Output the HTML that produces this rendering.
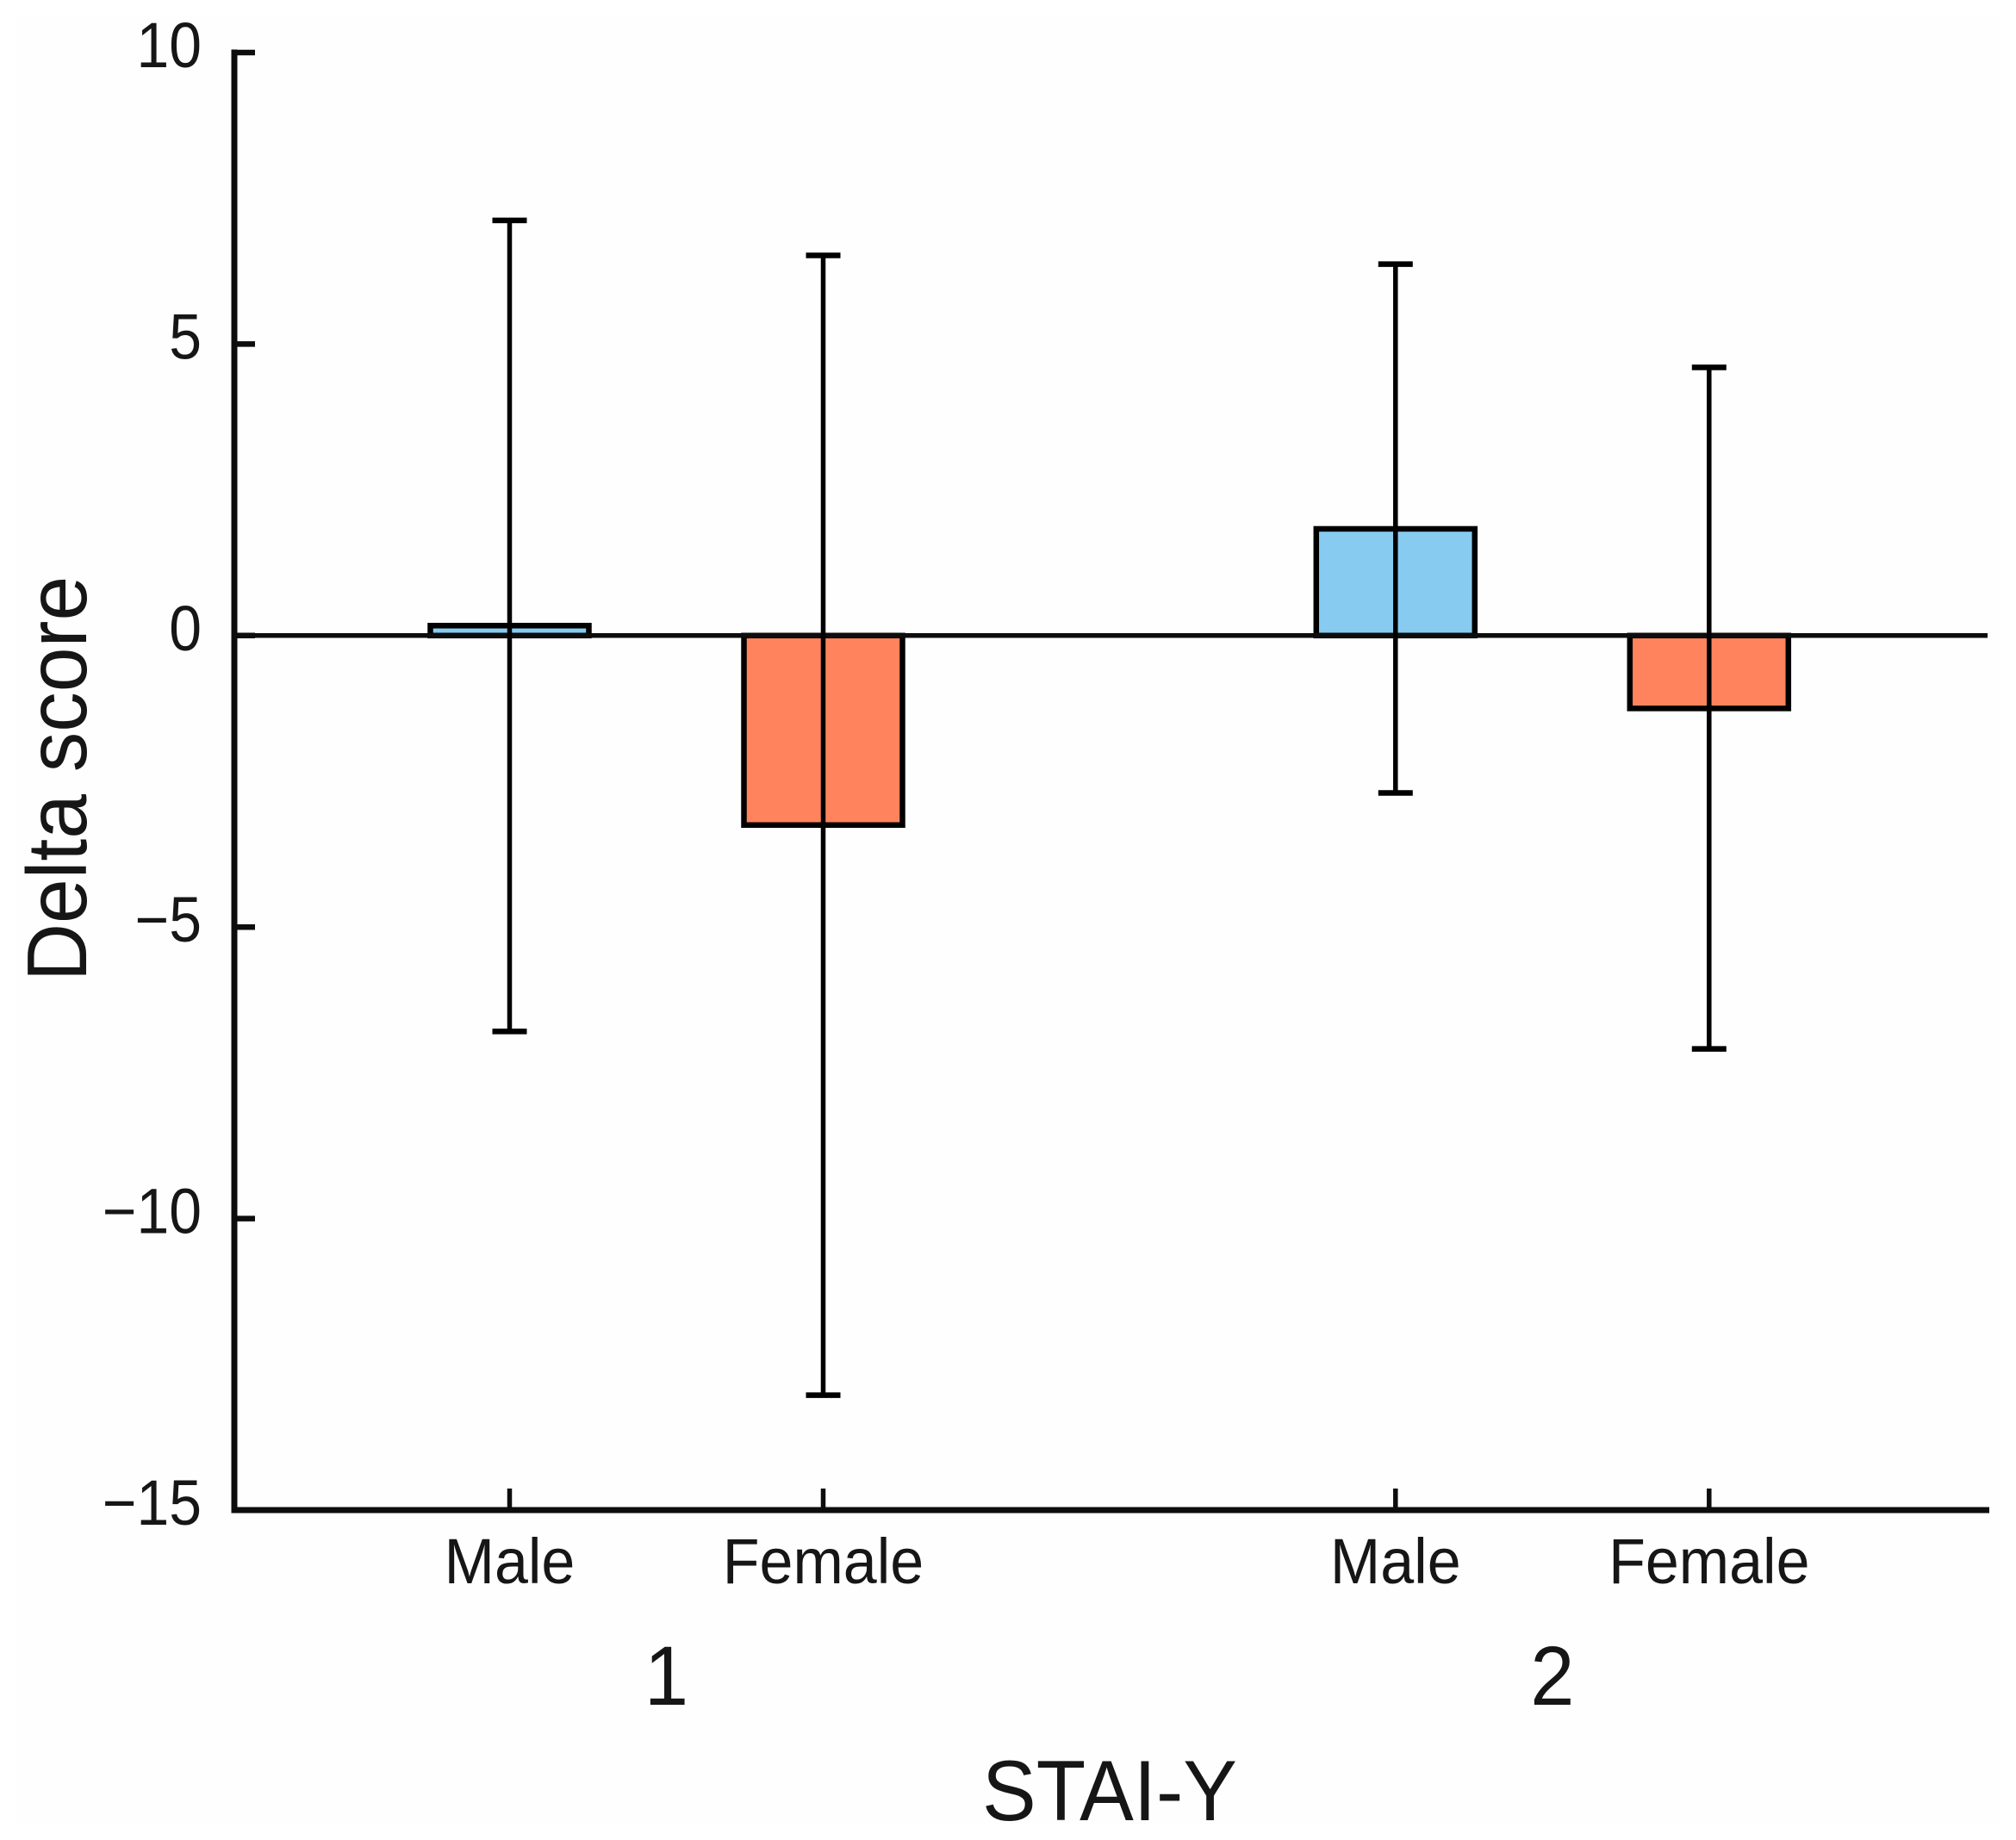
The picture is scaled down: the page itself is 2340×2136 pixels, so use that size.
<!DOCTYPE html>
<html lang="en">
<head>
<meta charset="utf-8">
<title>STAI-Y delta score</title>
<style>
html,body{margin:0;padding:0;background:#fff;}
svg{display:block;}
text{font-family:"Liberation Sans",Arial,sans-serif;fill:#161616;}
</style>
</head>
<body>
<svg id="chart" xmlns="http://www.w3.org/2000/svg" width="2340" height="2136" viewBox="0 0 2340 2136">
  <rect x="18" y="18" width="2304" height="2100" fill="#fefefe"/>
  <text transform="translate(100,904) rotate(-90) scale(1,1.06)" text-anchor="middle" font-size="93">Delta score</text>
  <text transform="translate(1288,2113) scale(1,1.06)" text-anchor="middle" font-size="94">STAI-Y</text>
  <g id="layer-bars"></g>
  <g id="layer-axes"></g>
  <g id="layer-errors"></g>
  <g id="layer-labels"></g>
</svg>
<script>
const categories = ["Male", "Female", "Male", "Female"];
const groupLabels = ["1", "2"];
const groupMembers = [[0, 1], [2, 3]];
const sexes = ["male", "female", "male", "female"];
const categoryUnits = [0, 1, 2.825, 3.825];
const barValues = [0.17, -3.25, 1.83, -1.25];
const errorHigh = [7.12, 6.52, 6.37, 4.6];
const errorLow = [-6.79, -13.03, -2.7, -7.09];
const yTickValues = [10, 5, 0, -5, -10, -15];
const yTickLabels = ["10", "5", "0", "\u22125", "\u221210", "\u221215"];

const NS = "http://www.w3.org/2000/svg";
const plot = { left: 272, right: 2309, top: 61, bottom: 1753 };
const yDomain = { min: -15, max: 10 };
const xStart = 591.5, xStep = 364;
const barWidth = 184, capWidth = 40;
const ink = "#0d0d0d";

function yScale(v) {
  return plot.bottom - (v - yDomain.min) / (yDomain.max - yDomain.min) * (plot.bottom - plot.top);
}
function xScale(u) {
  return xStart + u * xStep;
}
function make(tag, attrs, parent) {
  const el = document.createElementNS(NS, tag);
  for (const k in attrs) el.setAttribute(k, attrs[k]);
  parent.appendChild(el);
  return el;
}

const layerBars = document.getElementById("layer-bars");
const layerAxes = document.getElementById("layer-axes");
const layerErrors = document.getElementById("layer-errors");
const layerLabels = document.getElementById("layer-labels");

categories.forEach(function (cat, i) {
  const cx = xScale(categoryUnits[i]);
  const y0 = yScale(0), yv = yScale(barValues[i]);
  const bar = make("rect", {
    x: cx - barWidth / 2,
    y: Math.min(y0, yv),
    width: barWidth,
    height: Math.abs(y0 - yv),
    fill: sexes[i] === "male" ? "#87cbf0" : "#ff845d",
    stroke: "#000",
    "stroke-width": 6.5
  }, layerBars);
  
  

  const stem = make("line", {
    x1: cx, x2: cx, y1: yScale(errorHigh[i]), y2: yScale(errorLow[i]),
    stroke: "#000", "stroke-width": 5.5
  }, layerErrors);
  
  

  const capTop = make("line", {
    x1: cx - capWidth / 2, x2: cx + capWidth / 2,
    y1: yScale(errorHigh[i]), y2: yScale(errorHigh[i]),
    stroke: "#000", "stroke-width": 6.5
  }, layerErrors);
  
  

  const capLow = make("line", {
    x1: cx - capWidth / 2, x2: cx + capWidth / 2,
    y1: yScale(errorLow[i]), y2: yScale(errorLow[i]),
    stroke: "#000", "stroke-width": 6.5
  }, layerErrors);
  
  

  const tick = make("line", {
    x1: cx, x2: cx, y1: plot.bottom - 25, y2: plot.bottom,
    stroke: ink, "stroke-width": 5.5
  }, layerAxes);
  
  

  const label = make("text", {
    transform: "translate(" + cx + ",1838) scale(1,1.06)",
    "text-anchor": "middle", "font-size": 70
  }, layerLabels);
  label.textContent = cat;
  
  
});

groupLabels.forEach(function (g, i) {
  const m = groupMembers[i];
  const cx = (xScale(categoryUnits[m[0]]) + xScale(categoryUnits[m[1]])) / 2;
  const label = make("text", {
    transform: "translate(" + cx + ",1979) scale(1,1.06)",
    "text-anchor": "middle", "font-size": 92
  }, layerLabels);
  label.textContent = g;
  
  
});

yTickValues.forEach(function (v, i) {
  const y = yScale(v);
  const tick = make("line", {
    x1: plot.left, x2: 296, y1: y, y2: y,
    stroke: ink, "stroke-width": 6.5
  }, layerAxes);
  
  

  const label = make("text", {
    transform: "translate(234," + (y + 17) + ") scale(0.97,1.06)",
    "text-anchor": "end", "font-size": 70
  }, layerLabels);
  label.textContent = yTickLabels[i];
  
  
});

const zeroLine = make("line", {
  x1: plot.left, x2: 2307, y1: yScale(0), y2: yScale(0),
  stroke: ink, "stroke-width": 5.5
}, layerAxes);



const yAxis = make("line", {
  x1: plot.left, x2: plot.left, y1: plot.top - 3.5, y2: plot.bottom + 3.5,
  stroke: ink, "stroke-width": 7
}, layerAxes);



const xAxis = make("line", {
  x1: plot.left - 3.5, x2: plot.right, y1: plot.bottom, y2: plot.bottom,
  stroke: ink, "stroke-width": 7
}, layerAxes);


</script>
</body>
</html>
